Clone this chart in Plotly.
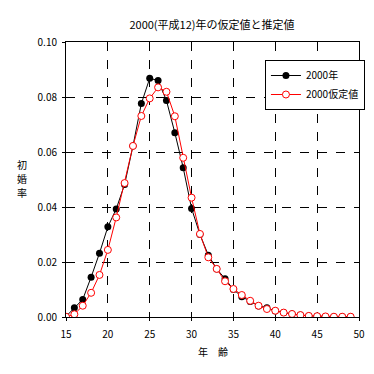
import plotly.graph_objects as go

ages = list(range(15, 50))
rate_2000 = [0.0002, 0.0034, 0.0064, 0.0145, 0.0232, 0.0328, 0.0393, 0.0482, 0.0622, 0.0776,
             0.0868, 0.0860, 0.0787, 0.0670, 0.0543, 0.0395, 0.0300, 0.0225, 0.0175, 0.0139,
             0.0100, 0.0074, 0.0056, 0.0040, 0.0034, 0.0022, 0.0016, 0.0011, 0.0007, 0.0004,
             0.0003, 0.0001, 0.0001, 0.0001, 0.0001]
rate_assumed = [0.0001, 0.0010, 0.0041, 0.0088, 0.0153, 0.0244, 0.0362, 0.0487, 0.0622, 0.0731,
                0.0795, 0.0835, 0.0819, 0.0730, 0.0579, 0.0434, 0.0302, 0.0217, 0.0175, 0.0130,
                0.0102, 0.0080, 0.0059, 0.0041, 0.0029, 0.0023, 0.0016, 0.0011, 0.0007, 0.0004,
                0.0003, 0.0002, 0.0001, 0.0001, 0.0001]

title_text = "2000(平成12)年の仮定値と推定値"
series_names = ["2000年", "2000仮定値"]
x_title = "年　齢"
y_title_chars = ["初", "婚", "率"]
y_ticks = [0.0, 0.02, 0.04, 0.06, 0.08, 0.10]
y_ticklabels = ["0.00", "0.02", "0.04", "0.06", "0.08", "0.10"]

FONT = "Noto Sans CJK JP"

fig = go.Figure()
fig.add_trace(go.Scatter(
    x=ages, y=rate_2000, name=series_names[0], mode="lines+markers",
    line=dict(color="black", width=1),
    marker=dict(symbol="circle", size=7, color="black"),
))
fig.add_trace(go.Scatter(
    x=ages, y=rate_assumed, name=series_names[1], mode="lines+markers",
    line=dict(color="red", width=1),
    marker=dict(symbol="circle", size=7, color="white", line=dict(color="red", width=1)),
))

axis_common = dict(
    showline=True, linecolor="black", linewidth=1, mirror=True,
    showgrid=True, gridcolor="black", gridwidth=1, griddash="dash",
    zeroline=False, ticks="outside", ticklen=3, tickcolor="black",
    tickfont=dict(family=FONT, size=10, color="black"),
)

W = H = 366  # page body has an 8px margin
fig.update_layout(
    width=W, height=H,
    margin=dict(l=58, r=15, t=34, b=57, autoexpand=False),
    paper_bgcolor="white", plot_bgcolor="white",
    font=dict(family=FONT, size=10, color="black"),
    title=dict(text=title_text, x=204 / W, xanchor="center", y=1 - 17 / H, yanchor="middle",
               font=dict(family=FONT, size=11, color="black")),
    xaxis=dict(range=[15, 50], dtick=5, tick0=15, ticklabelstandoff=5, **axis_common),
    yaxis=dict(range=[0, 0.10], tickvals=y_ticks, ticktext=y_ticklabels,
               ticklabelstandoff=3, **axis_common),
    legend=dict(x=0.679, y=0.9345, xanchor="left", yanchor="top",
                bordercolor="black", borderwidth=1, bgcolor="white",
                font=dict(family=FONT, size=10, color="black"),
                tracegroupgap=0, itemwidth=30),
    showlegend=True,
)

fig.add_annotation(text=x_title, xref="paper", yref="paper", x=0.5, y=-0.127,
                   yanchor="middle", showarrow=False, font=dict(family=FONT, size=10))
for ch, yy in zip(y_title_chars, [0.553, 0.502, 0.451]):
    fig.add_annotation(text=ch, xref="paper", yref="paper", x=-0.150, y=yy,
                       xanchor="center", yanchor="middle", showarrow=False,
                       font=dict(family=FONT, size=10))

fig.write_html("out.html")
